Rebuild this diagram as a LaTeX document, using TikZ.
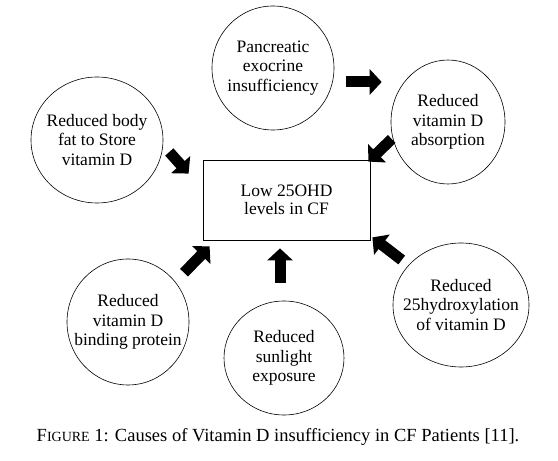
\documentclass[tikz,border=0pt]{standalone}
\usepackage{fontspec}
\setmainfont{Liberation Serif}
\usetikzlibrary{shapes.geometric, arrows.meta}

\begin{document}
\begin{tikzpicture}[
    x=1pt, y=1pt,
    cause/.style={draw, ellipse, line width=0.6pt, inner sep=-20pt, align=center, font=\fontsize{17.5}{19.5}\selectfont},
    target/.style={draw, line width=0.8pt, minimum width=167pt, minimum height=80pt, align=center, font=\fontsize{17.5}{18.5}\selectfont},
    bigarrow/.style={-{Triangle[width=25pt,length=12pt]}, line width=11pt}
]
\useasboundingbox (0,0) rectangle (558,461);

% Centre box
\node[target] (low) at (286.5,261) {Low 25OHD\\levels in CF};

% Upper causes
\node[cause, minimum width=122pt, minimum height=124pt] (panc) at (273,393) {Pancreatic\\exocrine\\insufficiency};
\node[cause, minimum width=132pt, minimum height=126pt] (fat) at (97,321) {Reduced body\\fat to Store\\vitamin D};
\node[cause, minimum width=114pt, minimum height=124pt] (absorb) at (448,339) {Reduced\\vitamin D\\absorption};

% Lower causes
\node[cause, minimum width=122pt, minimum height=126pt] (bind) at (128,139) {Reduced\\vitamin D\\binding protein};
\node[cause, minimum width=120pt, minimum height=114pt] (sun) at (284,103) {Reduced\\sunlight\\exposure};
\node[cause, minimum width=136pt, minimum height=124pt] (hydrox) at (461,156) {Reduced\\25hydroxylation\\of vitamin D};

% Arrows
\draw[bigarrow] ([shift={(12,-14)}]panc.east) -- ([shift={(-9,40)}]absorb.west);
\draw[bigarrow] ([shift={(6,-12)}]fat.east) -- ([shift={(-14,-14)}]low.north west);
\draw[bigarrow] ([shift={(1,-17)}]absorb.west) -- ([shift={(-2,-2)}]low.north east);
\draw[bigarrow] ([shift={(56,-14)}]bind.north) -- ([shift={(7,-6)}]low.south west);
\draw[bigarrow] ([shift={(-4,18)}]sun.north) -- ([shift={(-6.5,-8)}]low.south);
\draw[bigarrow] ([shift={(9,45)}]hydrox.west) -- ([shift={(2,3)}]low.south east);

% Caption
\node[anchor=base, font=\fontsize{18.5}{20}\selectfont] (caption) at (278,19)
    {F{\fontsize{14}{16}\selectfont IGURE} 1: Causes of Vitamin D insufficiency in CF Patients [11].};

\end{tikzpicture}
\end{document}
